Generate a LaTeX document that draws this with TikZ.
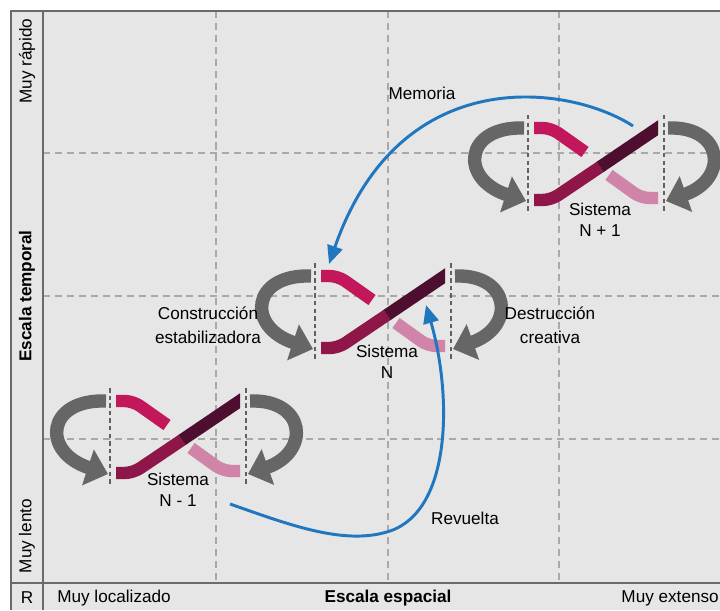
\documentclass[tikz,border=0pt]{standalone}
\usepackage{fontspec}
\setmainfont{Liberation Sans}
\usetikzlibrary{arrows.meta, positioning}

\definecolor{fondo}{HTML}{E6E6E6}
\definecolor{rejilla}{HTML}{A9A9A9}
\definecolor{marco}{HTML}{6A6A6A}
\definecolor{giris}{HTML}{666666}
\definecolor{azul}{HTML}{2176C0}
\definecolor{rosa}{HTML}{C2185B}
\definecolor{granate}{HTML}{8E1648}
\definecolor{morado}{HTML}{4E0E30}
\definecolor{rosapalido}{HTML}{D084A8}

\tikzset{
  rejillas/.style={rejilla, line width=1.4pt, dash pattern=on 5pt off 3.5pt},
  guia/.style={black!62, line width=1.1pt, dash pattern=on 3.2pt off 2.2pt},
  giro/.style={giris, line width=9.5pt, -{Triangle[length=15pt,width=26pt]}},
  tramo/.style={line width=8.8pt, rounded corners=6pt},
  enlace/.style={azul, line width=2.1pt, -{Triangle[length=13pt,width=11pt]}},
  texto/.style={inner sep=0pt, align=center}
}

\newcommand{\lazo}[1]{%
  \begin{scope}[shift={#1}]
    \draw[guia] (-68,-49) -- (-68,49);
    \draw[guia] (68,-49) -- (68,49);
    \draw[giro] (-72,-36) .. controls (-132,-38) and (-137,15) .. (-70,37);
    \draw[giro] (72,-36) .. controls (128,-38) and (133,15) .. (70,37);
    \begin{scope}
      \clip (-62,-60) rectangle (62,60);
      \draw[tramo, rosa] (-70,-36) -- (-45,-36) -- (-11,-12);
      \draw[tramo, rosapalido] (70,34) -- (45,34) -- (13,11);
      \draw[tramo, granate] (-70,36) -- (-45,36) -- (4,3);
      \draw[tramo, morado] (4,3) -- (72,-43);
    \end{scope}
  \end{scope}}

\begin{document}
\begin{tikzpicture}[x=0.025cm, y=-0.025cm, font=\fontsize{12.2}{14}\selectfont]
\clip (0,0) rectangle (720,610);
\fill[fondo] (11,11) rectangle (720,610);

\foreach \gx in {216, 388, 559}
  \draw[rejillas] (\gx,11) -- (\gx,583);
\foreach \gy in {153, 296, 439}
  \draw[rejillas] (43,\gy) -- (720,\gy);

\draw[marco, line width=1.8pt] (11,610) -- (11,11) -- (720,11);
\draw[marco, line width=1.1pt] (43,11) -- (43,610);
\draw[marco, line width=1.1pt] (11,583) -- (720,583);

\node[texto, rotate=90] (rapido) at (27,61) {Muy rápido};
\node[texto, rotate=90] (temporal) at (27,296) {\bfseries Escala temporal};
\node[texto, rotate=90] (lento) at (27,536) {Muy lento};
\node[texto] (r) at (27,598) {R};
\node[texto, anchor=west] (localizado) at (57,598) {Muy localizado};
\node[texto] (espacial) at (388,598) {\bfseries Escala espacial};
\node[texto, anchor=east] (extenso) at (719,598) {Muy extenso};

\lazo{(596,164)}
\lazo{(383,312)}
\lazo{(178,437)}

\node[texto, font=\fontsize{12.2}{15}\selectfont] (sis-mas) at (600,220) {Sistema\\N + 1};
\node[texto, font=\fontsize{12.2}{15}\selectfont] (sis-n) at (387,362) {Sistema\\N};
\node[texto, font=\fontsize{12.2}{15}\selectfont] (sis-menos) at (178,490) {Sistema\\N - 1};

\node[texto, font=\fontsize{12.2}{17}\selectfont] (construccion) at (208,325) {Construcción\\estabilizadora};
\node[texto, font=\fontsize{12.2}{17}\selectfont] (destruccion) at (550,325) {Destrucción\\creativa};
\node[texto] (memoria) at (422,93) {Memoria};
\node[texto] (revuelta) at (465,518) {Revuelta};

\coordinate (mem-ini) at (633,126);
\coordinate (mem-fin) at (329,264);
\coordinate (rev-ini) at (230,504);
\coordinate (rev-fin) at (426,305);

\draw[enlace] (mem-ini) .. controls (570,85) and (400,60) .. (mem-fin);
\draw[enlace] (rev-ini) .. controls (290,525) and (345,546) .. (390,531)
  .. controls (452,510) and (452,395) .. (rev-fin);
\end{tikzpicture}
\end{document}
